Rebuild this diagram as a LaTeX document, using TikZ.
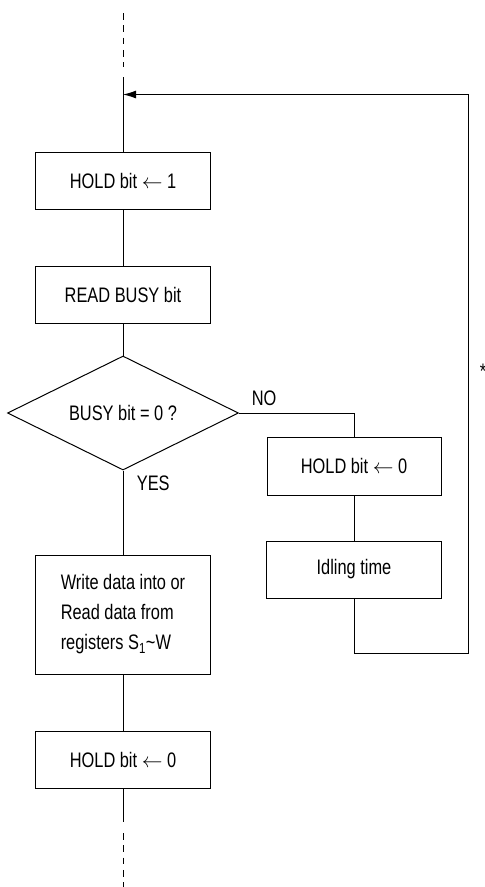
\documentclass[tikz,border=0pt]{standalone}
\usepackage{amsmath}
\usepackage{fontspec}
\setmainfont{Liberation Sans}[FakeStretch=0.78]
\usetikzlibrary{positioning,shapes.geometric,arrows.meta}

\begin{document}
\begin{tikzpicture}[x=1pt, y=-1pt, line width=1pt,
    txt/.style = {font=\fontsize{21pt}{30pt}\selectfont},
    block/.style = {draw, txt, minimum width=175pt, minimum height=57pt, inner sep=0pt},
    test/.style = {draw, diamond, shape aspect=2, txt, minimum width=231pt, minimum height=114pt, inner sep=0pt},
    dashline/.style = {dash pattern=on 6.7pt off 5.6pt}]
    \useasboundingbox (0,0) rectangle (485,887);

    \node[block] (set1) at (123,180.5) {HOLD bit $\leftarrow$ 1};
    \node[block] (read) [below=56pt of set1] {READ BUSY bit};
    \node[test] (busy) [below=32pt of read] {BUSY bit = 0 ?};
    \node[block, minimum height=119pt, align=left] (rw) [below=84pt of busy] {Write data into or\\Read data from\\registers S\textsubscript{1}\textasciitilde W};
    \node[block] (clr1) [below=56pt of rw] {HOLD bit $\leftarrow$ 0};
    \node[block, minimum width=174pt, minimum height=58pt] (clr2) at (354,466) {HOLD bit $\leftarrow$ 0};
    \node[block] (idle) [below=45pt of clr2] {Idling time};

    \coordinate (top) at (123,13);
    \coordinate (topend) at (123,67);
    \coordinate (in) at (123,77);
    \coordinate (join) at (123,94.5);
    \coordinate (back) at (468,653);
    \coordinate (out) at (123,822);
    \coordinate (dash2) at (123,833);
    \coordinate (bot) at (123,887);

    \draw[dashline] (top) -- (topend);
    \draw (in) -- (set1);
    \draw (set1) -- (read);
    \draw (read) -- (busy);
    \draw (busy.east) -| (clr2.north);
    \draw (clr2) -- (idle);
    \draw[-{Latex[length=13pt,width=8pt]}] (idle.south) |- (back) |- (join);
    \draw (busy.south) -- (rw);
    \draw (rw) -- (clr1);
    \draw (clr1) -- (out);
    \draw[dashline] (dash2) -- (bot);

    \node[txt, anchor=base west] (no) at (248,405.5) {NO};
    \node[txt, anchor=base west] (yes) at (133,490) {YES};
    \node[txt, anchor=base] (star) at (483,378) {*};
\end{tikzpicture}
\end{document}
